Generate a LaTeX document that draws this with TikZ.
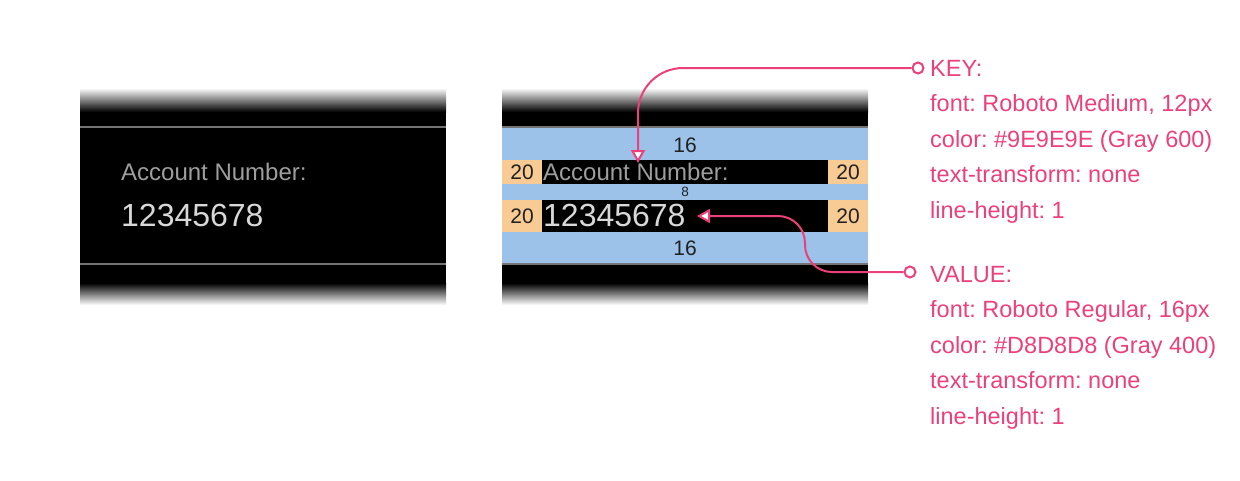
\documentclass[tikz,border=0pt]{standalone}
\usepackage{fontspec}
\setmainfont{Liberation Sans}
\usetikzlibrary{arrows.meta}
\definecolor{pink}{HTML}{EC407A}
\definecolor{bandblue}{HTML}{9CC2EA}
\definecolor{padorange}{HTML}{F8CB94}
\definecolor{keygray}{HTML}{9E9E9E}
\definecolor{valgray}{HTML}{D8D8D8}
\definecolor{rulegray}{HTML}{757575}
\definecolor{numdark}{HTML}{212121}
\frenchspacing
\tikzset{
  keytext/.style={anchor=base west, inner sep=0pt, text=keygray, font=\fontsize{24}{24}\selectfont},
  valtext/.style={anchor=base west, inner sep=0pt, text=valgray, font=\fontsize{32}{32}\selectfont},
  num/.style={inner sep=0pt, text=numdark, font=\fontsize{21}{21}\selectfont},
  smallnum/.style={inner sep=0pt, text=numdark, font=\fontsize{13.5}{13.5}\selectfont},
  note/.style={anchor=base west, inner sep=0pt, text=pink, font=\fontsize{23.5}{23.5}\selectfont},
  dot/.style={circle, draw=pink, fill=white, line width=2pt, minimum size=11pt, inner sep=0pt},
  conn/.style={draw=pink, line width=2pt, -{Triangle[length=13pt, width=14pt, fill=white]}},
}
\begin{document}
\begin{tikzpicture}[x=1pt, y=-1pt]
\useasboundingbox (0,0) rectangle (1240,480);
% left panel
\shade[top color=white, bottom color=black] (80,88) rectangle (446,112);
\fill[black] (80,111.5) rectangle (446,283.5);
\shade[top color=black, bottom color=white] (80,283) rectangle (446,305);
\fill[rulegray] (80,126) rectangle (446,128);
\fill[rulegray] (80,263) rectangle (446,265);
\node[keytext] (lkey) at (121,180) {Account Number:};
\node[valtext] (lval) at (121,226.5) {12345678};
% right panel
\shade[top color=white, bottom color=black] (502,88) rectangle (868,112);
\fill[black] (502,111.5) rectangle (868,283.5);
\shade[top color=black, bottom color=white] (502,283) rectangle (868,305);
\fill[rulegray] (502,126) rectangle (868,128);
\fill[rulegray] (502,263) rectangle (868,265);
\fill[bandblue] (502,128) rectangle (868,263);
\fill[black] (542,160) rectangle (828,184);
\fill[black] (542,200) rectangle (828,232);
\fill[padorange] (502,160) rectangle (542,184);
\fill[padorange] (828,160) rectangle (868,184);
\fill[padorange] (502,200) rectangle (542,232);
\fill[padorange] (828,200) rectangle (868,232);
\node[num] (t16) at (685,145) {16};
\node[num] (b16) at (685,248) {16};
\node[smallnum] (m8) at (685,192) {8};
\node[num] (kl20) at (522,172) {20};
\node[num] (kr20) at (848,172) {20};
\node[num] (vl20) at (522,216) {20};
\node[num] (vr20) at (848,216) {20};
\node[keytext] (rkey) at (543,180) {Account Number:};
\node[valtext] (rval) at (543,226.5) {12345678};
% annotations
\foreach \t [count=\i from 0] in {KEY:, {font: Roboto Medium, 12px}, {color: \#9E9E9E (Gray 600)}, {text-transform: none}, {line-height: 1}}
  \node[note] (k\i) at (930,76+35.5*\i) {\t};
\foreach \t [count=\i from 0] in {VALUE:, {font: Roboto Regular, 16px}, {color: \#D8D8D8 (Gray 400)}, {text-transform: none}, {line-height: 1}}
  \node[note] (v\i) at (930,282+35.5*\i) {\t};
\node[dot] (kc) at (918,68) {};
\node[dot] (vc) at (910,272) {};
\coordinate (ktip) at (638,163);
\coordinate (vtip) at (697,216);
\draw[conn, rounded corners=45pt] (kc.west) -- (638,68) -- (ktip);
\draw[conn, rounded corners=27pt] (vc.west) -- (805,272) -- (805,216) -- (vtip);
\end{tikzpicture}
\end{document}
